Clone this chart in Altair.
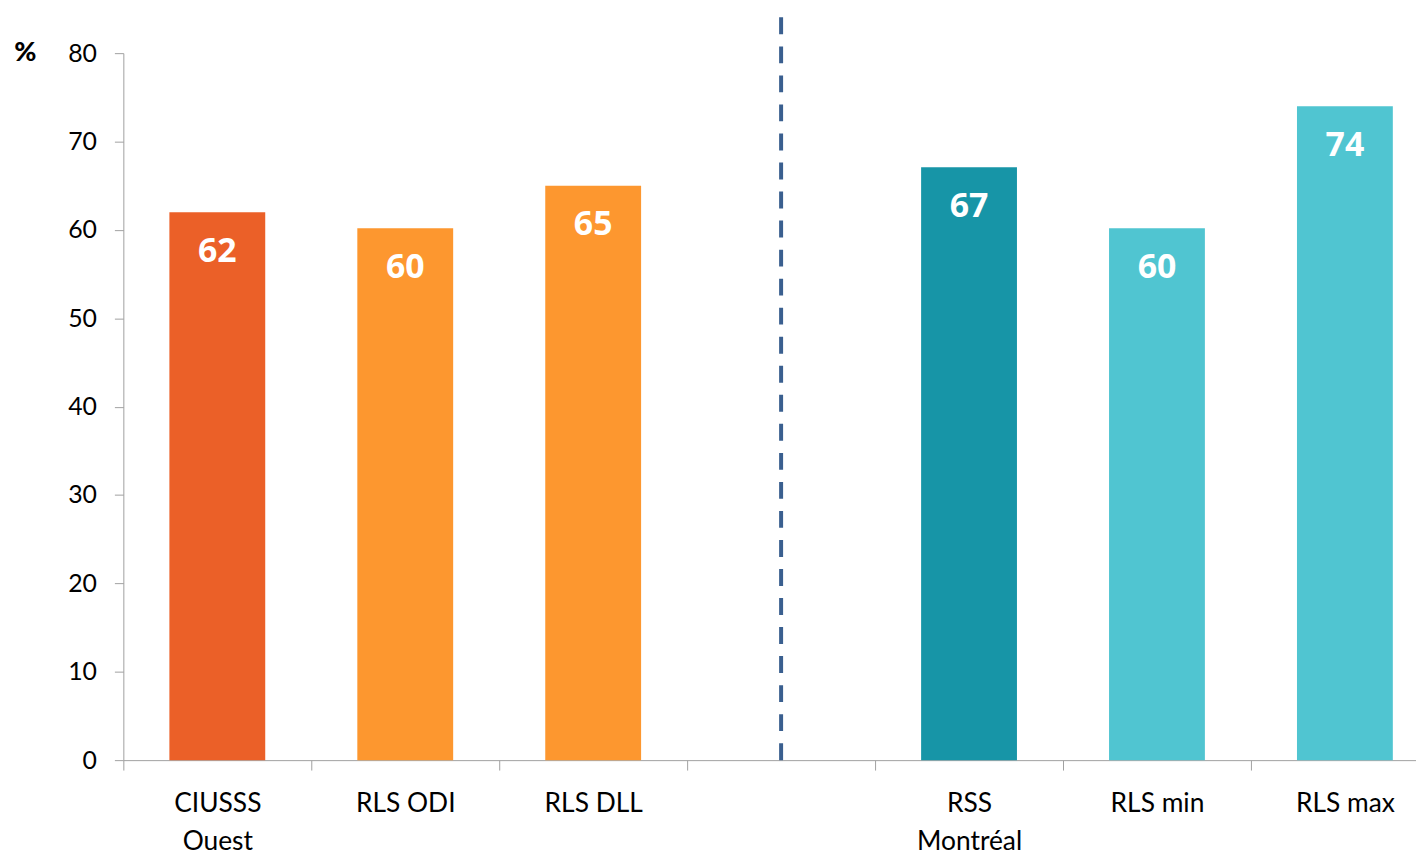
import altair as alt
import pandas as pd

categories = ["CIUSSS\nOuest", "RLS ODI", "RLS DLL", " ", "RSS\nMontréal", "RLS min", "RLS max"]
bar_categories = ["CIUSSS\nOuest", "RLS ODI", "RLS DLL", "RSS\nMontréal", "RLS min", "RLS max"]
values = [62, 60.2, 65, 67.1, 60.2, 74]
colors = ["#EB6028", "#FD972F", "#FD972F", "#1795A7", "#50C5D1", "#50C5D1"]
divider_category = " "
divider_top = 84.1

df = pd.DataFrame({"cat": bar_categories, "val": values, "color": colors})
div_df = pd.DataFrame({"cat": [divider_category], "y0": [0], "y1": [divider_top]})

xscale = alt.Scale(domain=categories, range=[0, 1323], paddingInner=0, paddingOuter=0)
yscale = alt.Scale(domain=[0, 80])

xaxis = alt.Axis(
    title=None, labelAngle=0, tickBand="extent", tickSize=10, tickColor="#A0A0A0",
    domainColor="#A0A0A0", labelFont="Lato", labelFontSize=26.5, labelColor="#000000",
    labelPadding=21, labelLineHeight=38, labelExpr="split(datum.label, '\\n')",
    grid=False,
)
yaxis = alt.Axis(
    title="%", titleAngle=0, titleX=-99, titleY=-1, titleAlign="center", titleBaseline="middle",
    titleFont="Lato", titleFontSize=27, titleFontWeight=900, titleColor="#000000",
    values=[0, 10, 20, 30, 40, 50, 60, 70, 80], tickSize=9, tickColor="#A0A0A0",
    domainColor="#A0A0A0", labelFont="Lato", labelFontSize=25, labelColor="#000000",
    labelPadding=18, grid=False,
)

bars = alt.Chart(df).mark_bar(width=alt.RelativeBandSize(0.51)).encode(
    x=alt.X("cat:N", scale=xscale, axis=xaxis, sort=categories),
    y=alt.Y("val:Q", scale=yscale, axis=yaxis),
    color=alt.Color("color:N", scale=None),
)

labels = alt.Chart(df).mark_text(
    color="white", font="Open Sans", fontSize=34, fontWeight="bold",
    baseline="middle", align="center", dy=40,
).encode(
    x=alt.X("cat:N", scale=xscale, sort=categories),
    y=alt.Y("val:Q", scale=yscale),
    text=alt.Text("val:Q", format=".0f"),
)

divider = alt.Chart(div_df).mark_rule(
    color="#3A5F8F", strokeWidth=4, strokeDash=[17, 12.2], clip=False
).encode(
    x=alt.X("cat:N", scale=xscale, sort=categories, bandPosition=0.5),
    y=alt.Y("y0:Q", scale=yscale),
    y2="y1:Q",
)

chart = alt.layer(bars, labels, divider).properties(
    width=1300, height=711,
    background="white",
    autosize=alt.AutoSizeParams(type="none"),
    padding={"left": 116, "top": 43, "right": 0, "bottom": 92},
).configure_view(stroke=None)

chart.save("out.html", embed_options={"renderer": "svg", "actions": False})
